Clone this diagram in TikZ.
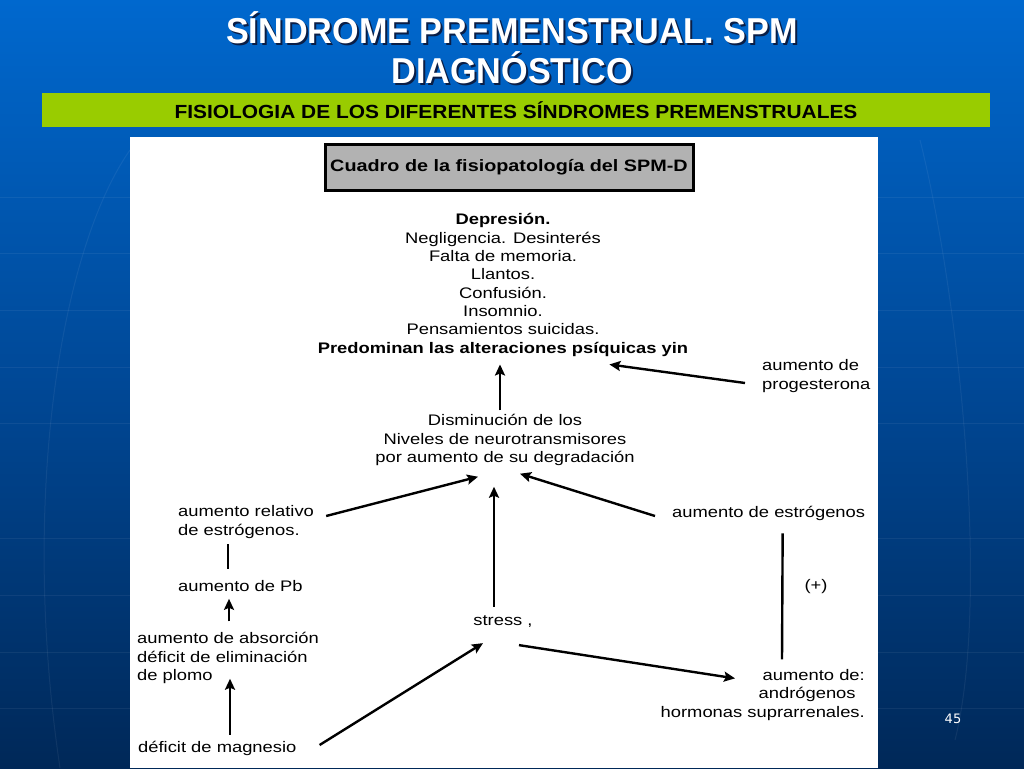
\documentclass[tikz,border=0pt]{standalone}
\usepackage{fontspec}
\setmainfont{Liberation Sans}
\newfontfamily\titlef[FakeStretch=0.95]{Liberation Sans}
\newfontfamily\subf[FakeStretch=1.1]{Liberation Sans}
\newfontfamily\diagf[FakeStretch=1.2]{Liberation Sans}
\newfontfamily\numf{DejaVu Sans}
\usetikzlibrary{arrows.meta,calc}
\definecolor{bgtop}{RGB}{0,104,206}
\definecolor{bgbot}{RGB}{0,40,88}
\definecolor{barg}{RGB}{153,204,0}
\definecolor{boxg}{RGB}{178,178,178}
\definecolor{shad}{RGB}{10,30,70}
\tikzset{
  dtext/.style={inner sep=0pt, font=\diagf\fontsize{15.3}{18.3}\selectfont, text=black},
  arr/.style={line width=2.4pt, -{Stealth[length=11pt,width=10pt,inset=2pt]}},
  plain/.style={line width=2.4pt},
  ttl/.style={inner sep=0pt, font=\titlef\bfseries\fontsize{36}{40}\selectfont},
}
\begin{document}
\begin{tikzpicture}[x=1pt,y=-1pt]
\useasboundingbox (0,0) rectangle (1024,768);
% background
\shade[top color=bgtop, bottom color=bgbot, middle color={rgb,255:red,0;green,72;blue,150}] (0,0) rectangle (1024,768);
\foreach \yy in {197,253,310,367,423,538,595,652,708}
  \draw[white, opacity=0.06, line width=1pt] (0,\yy) -- (1024,\yy);
\draw[white, opacity=0.06, line width=1pt] (60,768) .. controls (20,500) and (60,250) .. (130,150);
\draw[white, opacity=0.06, line width=1pt] (955,740) .. controls (990,600) and (960,300) .. (920,140);
% title
\node[ttl, text=shad] at (514,30) {SÍNDROME PREMENSTRUAL. SPM};
\node[ttl, text=white] (t1) at (512,28) {SÍNDROME PREMENSTRUAL. SPM};
\node[ttl, text=shad] at (514,70) {DIAGNÓSTICO};
\node[ttl, text=white] (t2) at (512,68) {DIAGNÓSTICO};
% green bar
\fill[barg] (42,93) rectangle (990,127);
\node[inner sep=0pt, font=\subf\bfseries\fontsize{19}{21}\selectfont] (sub) at (516,110) {FISIOLOGIA DE LOS DIFERENTES SÍNDROMES PREMENSTRUALES};
% white panel
\fill[white] (130,137) rectangle (878,768);
% gray title box
\draw[fill=boxg, line width=3pt] (325,144) rectangle (693,190);
\node[inner sep=0pt, font=\diagf\bfseries\fontsize{16.5}{20}\selectfont] (cuadro) at (509,167) {Cuadro de la fisiopatología del SPM-D};
% text nodes
\node[dtext, align=center] (dep) at (503,285) {\textbf{Depresión.}\\Negligencia. Desinterés\\Falta de memoria.\\Llantos.\\Confusión.\\Insomnio.\\Pensamientos suicidas.\\\textbf{Predominan las alteraciones psíquicas yin}};
\node[dtext, align=left, anchor=west] (prog) at (762,376) {aumento de\\progesterona};
\node[dtext, align=center] (dism) at (505,440) {Disminución de los\\Niveles de neurotransmisores\\por aumento de su degradación};
\node[dtext, align=left, anchor=west] (arel) at (178,522) {aumento relativo\\de estrógenos.};
\node[dtext, anchor=west] (pb) at (178,586) {aumento de Pb};
\node[dtext, align=left, anchor=west] (abs) at (137,658) {aumento de absorción\\déficit de eliminación\\de plomo};
\node[dtext, anchor=west] (mg) at (138,748) {déficit de magnesio};
\node[dtext] (stress) at (503,622) {stress ,};
\node[dtext, anchor=west] (estr) at (672,513) {aumento de estrógenos};
\node[dtext] (plus) at (816,587) {(+)};
\node[dtext, align=right, anchor=east] (andr) at (865,695) {aumento de:\\andrógenos\phantom{x}\\hormonas suprarrenales.};
\node[inner sep=0pt, font=\numf\fontsize{13}{15}\selectfont, text=white] (num) at (953,719) {45};
% connectors
\draw[arr] ($(dism.north)+(-5,-4)$) -- ($(dep.south)+(-3,8)$);
\draw[arr] ($(prog.west)+(-17,7)$) -- ($(dep.south east)+(-79,8)$);
\draw[arr] ($(arel.east)+(12,-6)$) -- ($(dism.south)+(-27,11)$);
\draw[arr] ($(stress.north)+(-9,-9)$) -- ($(dism.south)+(-11,21)$);
\draw[arr] ($(estr.west)+(-17,3)$) -- ($(dism.south)+(15,8)$);
\draw[plain] ($(arel.south west)+(50,6)$) -- ($(pb.north west)+(50,-11)$);
\draw[arr] ($(abs.north west)+(92,-11)$) -- ($(pb.south west)+(51,7)$);
\draw[arr] ($(mg.north west)+(92,-6)$) -- ($(abs.south west)+(93,-5)$);
\draw[arr] ($(mg.east)+(23,-3)$) -- ($(stress.south)+(-20,15)$);
\draw[arr] ($(stress.south)+(16,17)$) -- ($(andr.north east)+(-130,9)$);
\draw[plain] ($(estr.south)+(14,13)$) -- ($(andr.north east)+(-83,-10)$);
\end{tikzpicture}
\end{document}
